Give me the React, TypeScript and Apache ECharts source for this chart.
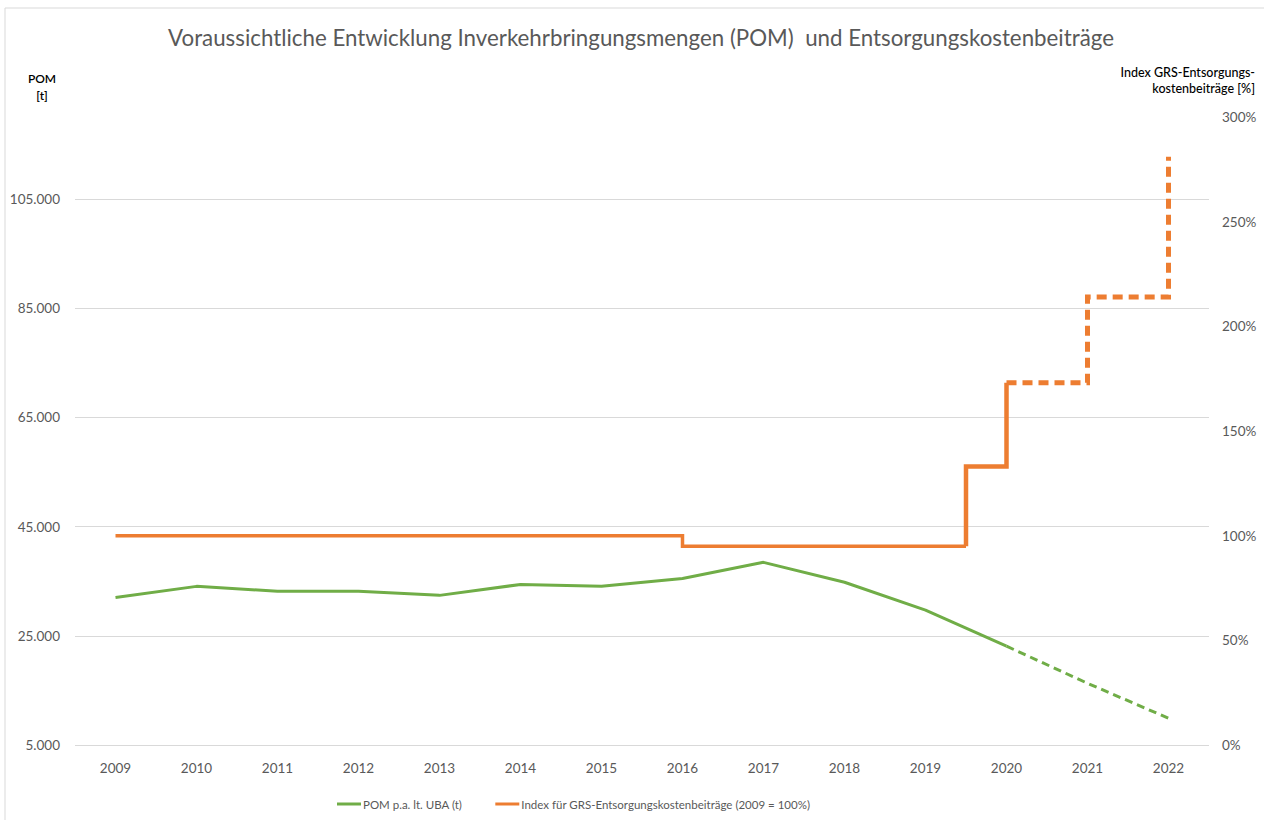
import React, { useEffect, useRef } from "react";
import * as echarts from "echarts";

const years = ["2009", "2010", "2011", "2012", "2013", "2014", "2015", "2016", "2017", "2018", "2019", "2020", "2021", "2022"];
// POM p.a. lt. UBA (t)
const pomValues = [32000, 34050, 33150, 33150, 32400, 34400, 34050, 35500, 38450, 34800, 29700, 23100, 16300, 9900];
const pomForecastFrom = 11; // index of 2020: dashed from here on

// Index GRS-Entsorgungskostenbeiträge (%), step line as [year, value]
const indexSolidA = [[2009, 100], [2016, 100], [2016, 95], [2019.5, 95]];
const indexSolidB = [[2019.5, 95], [2019.5, 133], [2020, 133], [2020, 173]];
const indexForecast = [[2020, 173], [2021, 173], [2021, 214], [2022, 214], [2022, 281]];

const leftTicks = { min: 5000, max: 120000, interval: 20000 };
const rightTicks = { min: 0, max: 300, interval: 50 };

const GREEN = "#70AD47";
const ORANGE = "#ED7D31";
const GRID = "#D9D9D9";
const TXT = "#595959";
const FONT = "Lato, 'Open Sans', sans-serif";

const fmtThousands = (v: number) => String(v).replace(/\B(?=(\d{3})+(?!\d))/g, ".");

export default function App() {
  const ref = useRef<HTMLDivElement>(null);
  useEffect(() => {
    if (!ref.current) return;
    const chart = echarts.init(ref.current, undefined, { renderer: "svg" });
    const pomSolid = pomValues.map((v, i) => (i <= pomForecastFrom ? v : null));
    const pomDashed = pomValues.map((v, i) => (i >= pomForecastFrom ? v : null));
    const POM = "POM p.a. lt. UBA (t)";
    const IDX = "Index für GRS-Entsorgungskostenbeiträge (2009 = 100%)";
    chart.setOption({
      animation: false,
      textStyle: { fontFamily: FONT },
      title: {
        text: "Voraussichtliche Entwicklung Inverkehrbringungsmengen (POM)  und Entsorgungskostenbeiträge",
        left: 636,
        top: 21,
        textAlign: "center",
        textStyle: { fontFamily: FONT, fontSize: 22.3, fontWeight: "normal", color: TXT },
      },
      legend: {
        data: [POM, IDX],
        left: 332,
        top: 793,
        itemWidth: 24,
        itemHeight: 3,
        itemGap: 33,
        icon: "rect",
        textStyle: { fontFamily: FONT, fontSize: 11.5, color: TXT, padding: [0, 0, 0, -3] },
      },
      graphic: [
        {
          type: "rect",
          shape: { x: 5, y: 8, width: 1300, height: 900 },
          style: { fill: "none", stroke: "#D9D9D9", lineWidth: 1 },
          silent: true,
        },
        { type: "text", x: 42, y: 78, style: { text: "POM", fontFamily: FONT, fontSize: 12, fontWeight: 600, fill: "#000", align: "center", verticalAlign: "middle" } },
        { type: "text", x: 42, y: 95, style: { text: "[t]", fontFamily: FONT, fontSize: 12, fontWeight: 600, fill: "#000", align: "center", verticalAlign: "middle" } },
        { type: "text", x: 1255, y: 72, style: { text: "Index GRS-Entsorgungs-", fontFamily: FONT, fontSize: 12.5, fontWeight: 500, fill: "#000", align: "right", verticalAlign: "middle" } },
        { type: "text", x: 1255, y: 88, style: { text: "kostenbeiträge [%]", fontFamily: FONT, fontSize: 12.5, fontWeight: 500, fill: "#000", align: "right", verticalAlign: "middle" } },
      ],
      grid: { left: 75, right: 55, top: 117, bottom: 75, containLabel: false },
      xAxis: [
        {
          type: "category",
          data: years,
          boundaryGap: true,
          axisLine: { show: false },
          axisTick: { show: false },
          axisLabel: { color: TXT, fontSize: 13.5, margin: 16, fontFamily: FONT },
          splitLine: { show: false },
        },
        { type: "value", min: 2008.5, max: 2022.5, show: false },
      ],
      yAxis: [
        {
          type: "value",
          min: leftTicks.min,
          max: leftTicks.max,
          interval: leftTicks.interval,
          axisLine: { show: false },
          axisTick: { show: false },
          axisLabel: { color: TXT, fontSize: 13.5, margin: 15, showMaxLabel: false, formatter: (v: number) => fmtThousands(v), fontFamily: FONT },
          splitLine: { show: true, showMaxLine: false, lineStyle: { color: GRID, width: 1 } },
        },
        {
          type: "value",
          min: rightTicks.min,
          max: rightTicks.max,
          interval: rightTicks.interval,
          position: "right",
          axisLine: { show: false },
          axisTick: { show: false },
          axisLabel: { color: TXT, fontSize: 13.5, margin: 13, formatter: "{value}%", fontFamily: FONT },
          splitLine: { show: false },
        },
      ],
      series: [
        {
          name: POM, type: "line", xAxisIndex: 0, yAxisIndex: 0, data: pomSolid, showSymbol: false, symbol: "none",
          lineStyle: { color: GREEN, width: 3 }, itemStyle: { color: GREEN }, connectNulls: false,
        },
        {
          name: POM, type: "line", xAxisIndex: 0, yAxisIndex: 0, data: pomDashed, showSymbol: false, symbol: "none",
          lineStyle: { color: GREEN, width: 3, type: [8, 5] }, itemStyle: { color: GREEN },
        },
        {
          name: IDX, type: "line", xAxisIndex: 1, yAxisIndex: 1, data: indexSolidA, showSymbol: false, symbol: "none",
          lineStyle: { color: ORANGE, width: 3.5, cap: "butt", join: "miter" }, itemStyle: { color: ORANGE },
        },
        {
          name: IDX, type: "line", xAxisIndex: 1, yAxisIndex: 1, data: indexSolidB, showSymbol: false, symbol: "none",
          lineStyle: { color: ORANGE, width: 4.5, cap: "butt", join: "miter" }, itemStyle: { color: ORANGE },
        },
        {
          name: IDX, type: "line", xAxisIndex: 1, yAxisIndex: 1, data: indexForecast, showSymbol: false, symbol: "none",
          lineStyle: { color: ORANGE, width: 5, type: [10, 6], cap: "butt", join: "miter" }, itemStyle: { color: ORANGE },
        },
      ],
    });
    return () => chart.dispose();
  }, []);
  return <div ref={ref} style={{ position: "fixed", left: 0, top: 0, width: 1264, height: 820, background: "#fff" }} />;
}
